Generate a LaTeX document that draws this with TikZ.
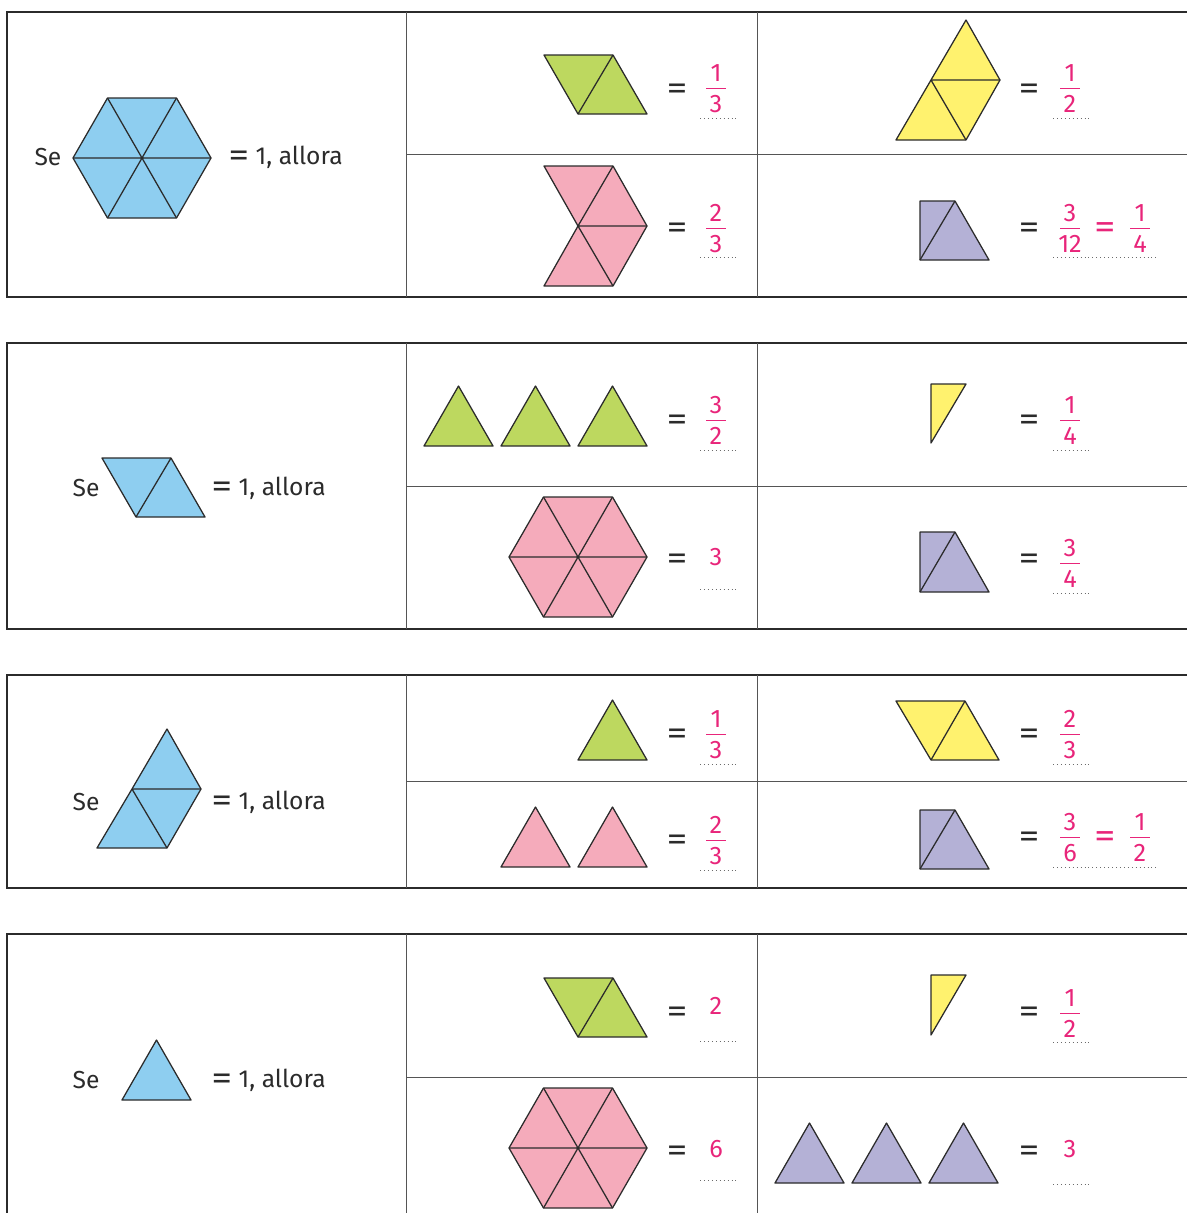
\documentclass[tikz,border=0pt]{standalone}
\usepackage{fontspec}
\usepackage{graphicx}
\setmainfont{Fira Sans}
\definecolor{hexblue}{HTML}{8ECEF0}
\definecolor{pgreen}{HTML}{BDD85F}
\definecolor{ppink}{HTML}{F5ABBB}
\definecolor{pyellow}{HTML}{FFF26E}
\definecolor{ppurple}{HTML}{B4B1D6}
\definecolor{answ}{HTML}{E8257A}
\definecolor{ink}{HTML}{2B2B2B}

% wide equals sign as printed in the sheet
\newcommand{\eqsign}{\raisebox{-0.1em}{\scalebox{1.7}[1.35]{=}}}
% one upward triangle: left x, base y, fill
\newcommand{\uptri}[3]{%
  \filldraw[shp, fill=#3] (#1,#2) -- (#1+69,#2) -- (#1+34.5,#2-60) -- cycle;}
% hexagon of six triangles: centre x, y, fill
\newcommand{\hexa}[3]{%
  \filldraw[shp, fill=#3] (#1-69,#2) -- (#1-34.5,#2-60) -- (#1+34.5,#2-60)
    -- (#1+69,#2) -- (#1+34.5,#2+60) -- (#1-34.5,#2+60) -- cycle;
  \draw[shp] (#1-69,#2) -- (#1+69,#2) (#1-34.5,#2-60) -- (#1+34.5,#2+60)
    (#1+34.5,#2-60) -- (#1-34.5,#2+60);}
% fraction: name, x, centre y, numerator, denominator
\newcommand{\frc}[5]{%
  \node[ans] (#1n) at (#2,#3-15) {#4};
  \node[ans] (#1d) at (#2,#3+16) {#5};
  \draw[fbar] (#2-10,#3) -- (#2+10,#3);}

\begin{document}
\begin{tikzpicture}[
  x=0.025cm, y=-0.025cm,
  outer/.style={ink, line width=1.4pt},
  inner/.style={ink!80, line width=0.7pt},
  shp/.style={draw=ink, line width=0.9pt, line join=round},
  txt/.style={font=\fontsize{17.5}{20}\selectfont, text=ink, inner sep=0pt},
  eqs/.style={txt, yshift=-2.8pt},
  ans/.style={font=\fontsize{18}{20}\selectfont, text=answ, inner sep=0pt},
  aeq/.style={ans, yshift=-2.8pt},
  fbar/.style={answ, line width=0.6pt},
  dots/.style={ink!70, line width=0.5pt, dash pattern=on 0.6pt off 2.2pt}
]
\useasboundingbox (0,0) rectangle (1187,1213);

% ---- frames
\draw[outer] (1187,12) -- (7,12) -- (7,297) -- (1187,297);
\draw[inner] (406,12) -- (406,297) (757,12) -- (757,297) (406,154) -- (1187,154);
\draw[outer] (1187,343) -- (7,343) -- (7,629) -- (1187,629);
\draw[inner] (406,343) -- (406,629) (757,343) -- (757,629) (406,486) -- (1187,486);
\draw[outer] (1187,675) -- (7,675) -- (7,888) -- (1187,888);
\draw[inner] (406,675) -- (406,888) (757,675) -- (757,888) (406,781) -- (1187,781);
\draw[outer] (1187,934) -- (7,934) -- (7,1220);
\draw[inner] (406,934) -- (406,1220) (757,934) -- (757,1220) (406,1077) -- (1187,1077);

% ---- table 1: the hexagon
\node[txt] (se1) at (48,157) {Se};
\hexa{142}{158}{hexblue}
\node[txt, anchor=west] (al1) at (228,157) {\eqsign{} 1, allora};

\filldraw[shp, fill=pgreen] (544,55) -- (613,55) -- (647,114) -- (578,114) -- cycle;
\draw[shp] (613,55) -- (578,114);
\node[eqs] (e11) at (677,88) {\eqsign};
\frc{f11}{716}{88}{1}{3}
\draw[dots] (700,118) -- (736,118);

\filldraw[shp, fill=ppink] (544,166) -- (613,166) -- (647,226) -- (613,286)
  -- (544,286) -- (578,226) -- cycle;
\draw[shp] (613,166) -- (578,226) -- (647,226) (578,226) -- (613,286);
\node[eqs] (e12) at (677,227) {\eqsign};
\frc{f12}{716}{228}{2}{3}
\draw[dots] (700,257) -- (736,257);

\filldraw[shp, fill=pyellow] (966,20) -- (1000,80) -- (966,140) -- (896,140)
  -- (931,80) -- cycle;
\draw[shp] (931,80) -- (1000,80) (931,80) -- (966,140);
\node[eqs] (e13) at (1029,88) {\eqsign};
\frc{f13}{1070}{88}{1}{2}
\draw[dots] (1053,118) -- (1089,118);

\filldraw[shp, fill=ppurple] (920,201) -- (955,201) -- (989,260) -- (920,260) -- cycle;
\draw[shp] (955,201) -- (920,260);
\node[eqs] (e14) at (1029,227) {\eqsign};
\frc{f14}{1070}{228}{3}{12}
\node[aeq] (e14b) at (1105,227) {\eqsign};
\frc{f14b}{1140}{228}{1}{4}
\draw[dots] (1053,257) -- (1158,257);

% ---- table 2: the rhombus
\node[txt] (se2) at (86,488) {Se};
\filldraw[shp, fill=hexblue] (102,458) -- (171,458) -- (205,517) -- (136,517) -- cycle;
\draw[shp] (171,458) -- (136,517);
\node[txt, anchor=west] (al2) at (211,488) {\eqsign{} 1, allora};

\uptri{424}{446}{pgreen}
\uptri{501}{446}{pgreen}
\uptri{578}{446}{pgreen}
\node[eqs] (e21) at (677,419) {\eqsign};
\frc{f21}{716}{420}{3}{2}
\draw[dots] (700,450) -- (736,450);

\hexa{578}{557}{ppink}
\node[eqs] (e22) at (677,558) {\eqsign};
\node[ans] (f22) at (716,557) {3};
\draw[dots] (700,589) -- (736,589);

\filldraw[shp, fill=pyellow] (931,384) -- (966,384) -- (931,443) -- cycle;
\node[eqs] (e23) at (1029,419) {\eqsign};
\frc{f23}{1070}{420}{1}{4}
\draw[dots] (1053,450) -- (1089,450);

\filldraw[shp, fill=ppurple] (920,532) -- (955,532) -- (989,592) -- (920,592) -- cycle;
\draw[shp] (955,532) -- (920,592);
\node[eqs] (e24) at (1029,558) {\eqsign};
\frc{f24}{1070}{563}{3}{4}
\draw[dots] (1053,593) -- (1089,593);

% ---- table 3: three triangles
\node[txt] (se3) at (86,802) {Se};
\filldraw[shp, fill=hexblue] (167,729) -- (201,789) -- (167,848) -- (97,848)
  -- (132,789) -- cycle;
\draw[shp] (132,789) -- (201,789) (132,789) -- (167,848);
\node[txt, anchor=west] (al3) at (211,802) {\eqsign{} 1, allora};

\uptri{578}{760}{pgreen}
\node[eqs] (e31) at (677,733) {\eqsign};
\frc{f31}{716}{734}{1}{3}
\draw[dots] (700,764) -- (736,764);

\uptri{501}{867}{ppink}
\uptri{578}{867}{ppink}
\node[eqs] (e32) at (677,839) {\eqsign};
\frc{f32}{716}{840}{2}{3}
\draw[dots] (700,870) -- (736,870);

\filldraw[shp, fill=pyellow] (896,701) -- (965,701) -- (999,760) -- (931,760) -- cycle;
\draw[shp] (965,701) -- (931,760);
\node[eqs] (e33) at (1029,733) {\eqsign};
\frc{f33}{1070}{734}{2}{3}
\draw[dots] (1053,764) -- (1089,764);

\filldraw[shp, fill=ppurple] (920,810) -- (955,810) -- (989,869) -- (920,869) -- cycle;
\draw[shp] (955,810) -- (920,869);
\node[eqs] (e34) at (1029,836) {\eqsign};
\frc{f34}{1070}{837}{3}{6}
\node[aeq] (e34b) at (1105,836) {\eqsign};
\frc{f34b}{1140}{837}{1}{2}
\draw[dots] (1053,867) -- (1158,867);

% ---- table 4: one triangle
\node[txt] (se4) at (86,1080) {Se};
\uptri{122}{1100}{hexblue}
\node[txt, anchor=west] (al4) at (211,1080) {\eqsign{} 1, allora};

\filldraw[shp, fill=pgreen] (544,978) -- (613,978) -- (647,1037) -- (578,1037) -- cycle;
\draw[shp] (613,978) -- (578,1037);
\node[eqs] (e41) at (677,1011) {\eqsign};
\node[ans] (f41) at (716,1006) {2};
\draw[dots] (700,1041) -- (736,1041);

\hexa{578}{1148}{ppink}
\node[eqs] (e42) at (677,1150) {\eqsign};
\node[ans] (f42) at (716,1149) {6};
\draw[dots] (700,1180) -- (736,1180);

\filldraw[shp, fill=pyellow] (931,975) -- (966,975) -- (931,1035) -- cycle;
\node[eqs] (e43) at (1029,1011) {\eqsign};
\frc{f43}{1070}{1013}{1}{2}
\draw[dots] (1053,1042) -- (1089,1042);

\uptri{775}{1183}{ppurple}
\uptri{852}{1183}{ppurple}
\uptri{929}{1183}{ppurple}
\node[eqs] (e44) at (1029,1150) {\eqsign};
\node[ans] (f44) at (1070,1149) {3};
\draw[dots] (1053,1184) -- (1089,1184);
\end{tikzpicture}
\end{document}
